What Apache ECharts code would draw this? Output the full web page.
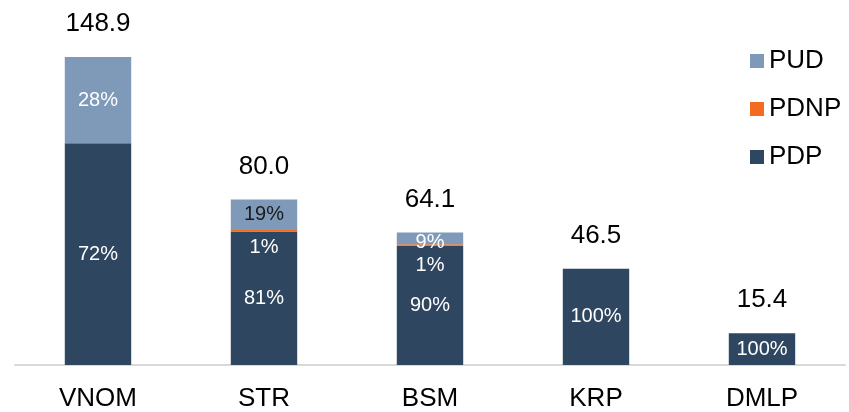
<!DOCTYPE html>
<html>
<head>
<meta charset="utf-8">
<script src="https://cdn.jsdelivr.net/npm/echarts@6/dist/echarts.min.js"></script>
<style>
html,body{margin:0;padding:0;background:#fff;}
#chart{width:849px;height:412px;}
</style>
</head>
<body>
<div id="chart"></div>
<script>
const categories = ['VNOM', 'STR', 'BSM', 'KRP', 'DMLP'];
const pdp = [107.2, 64.5, 57.7, 46.5, 15.4];
const pdnp = [0, 0.8, 0.64, 0, 0];
const pud = [41.7, 14.7, 5.76, 0, 0];
const totals = [148.9, 80.0, 64.1, 46.5, 15.4];
const pdpPct = ['72%', '81%', '90%', '100%', '100%'];
const pdnpPct = ['', '1%', '1%', '', ''];
const pudPct = ['28%', '19%', '9%', '', ''];

const FONT = "'Liberation Sans', Arial, sans-serif";
const pdnpLabelOffsets = [[0, 0], [0, 17], [0, 21], [0, 0], [0, 0]];
const pudLabelOffsets = [[0, 0], [0, 0], [0, 4], [0, 0], [0, 0]];
const pudLabelColors = ['#ffffff', '#1a1a1a', '#ffffff', '#ffffff', '#ffffff'];

const chart = echarts.init(document.getElementById('chart'), null, {renderer: 'canvas'});

const option = {
  animation: false,
  textStyle: {fontFamily: FONT},
  grid: {left: 15, right: 4, top: 34, bottom: 44, containLabel: false},
  legend: {
    orient: 'vertical',
    left: 750,
    top: 48,
    padding: 0,
    itemWidth: 14,
    itemHeight: 14,
    itemGap: 22,
    icon: 'rect',
    data: ['PUD', 'PDNP', 'PDP'],
    textStyle: {fontSize: 26, color: '#000', fontFamily: FONT}
  },
  xAxis: {
    type: 'category',
    data: categories,
    axisTick: {show: false},
    axisLine: {show: true, lineStyle: {color: '#d9d9d9', width: 2}},
    axisLabel: {fontSize: 26, color: '#000', margin: 21, fontFamily: FONT}
  },
  yAxis: {type: 'value', min: 0, max: 160, show: false, splitLine: {show: false}},
  series: [
    {
      name: 'PDP', type: 'bar', stack: 'a', barCategoryGap: '60%', barGap: '-100%',
      itemStyle: {color: '#2e4660'},
      data: pdp,
      label: {
        show: true, position: 'inside', fontSize: 20, color: '#fff', fontFamily: FONT,
        formatter: p => pdpPct[p.dataIndex]
      }
    },
    {
      name: 'PDNP', type: 'bar', stack: 'a', barCategoryGap: '60%', barGap: '-100%',
      itemStyle: {color: '#f26b21'},
      data: pdnp.map((v, i) => ({
        value: v,
        label: {offset: pdnpLabelOffsets[i]}
      })),
      label: {
        show: true, position: 'inside', fontSize: 20, color: '#fff', fontFamily: FONT,
        formatter: p => pdnpPct[p.dataIndex]
      }
    },
    {
      name: 'PUD', type: 'bar', stack: 'a', barCategoryGap: '60%', barGap: '-100%',
      itemStyle: {color: '#7f9ab9'},
      data: pud.map((v, i) => ({
        value: v,
        label: {offset: pudLabelOffsets[i], color: pudLabelColors[i]}
      })),
      label: {
        show: true, position: 'inside', fontSize: 20, color: '#fff', fontFamily: FONT,
        formatter: p => pudPct[p.dataIndex]
      }
    },
    {
      name: 'Total', type: 'bar', barCategoryGap: '60%', barGap: '-100%', silent: true, z: 1,
      itemStyle: {color: 'rgba(0,0,0,0)'},
      data: totals,
      label: {
        show: true, position: 'top', distance: 20, fontSize: 26, color: '#000', fontFamily: FONT,
        formatter: p => totals[p.dataIndex].toFixed(1)
      }
    }
  ]
};
chart.setOption(option);
</script>
</body>
</html>
